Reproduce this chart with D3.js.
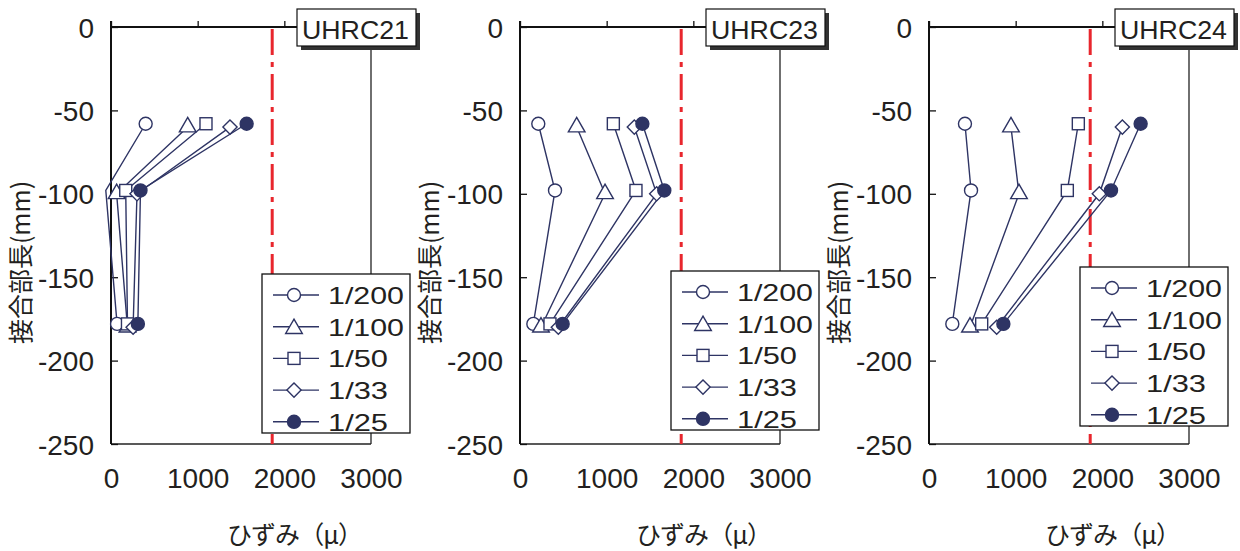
<!DOCTYPE html>
<html>
<head>
<meta charset="utf-8">
<script src="https://cdn.jsdelivr.net/npm/d3@7"></script>
<style>
  body { margin: 0; background: #fff; }
  svg { display: block; }
</style>
</head>
<body>
<div class="chart"></div>
<script>
// ---- data ----
var panelNames = ["UHRC21", "UHRC23", "UHRC24"];
var seriesNames = ["1/200", "1/100", "1/50", "1/33", "1/25"];
var depthsA = [-58, -98, -178];   // circle, square, filled circle
var depthsB = [-60, -100, -180];  // triangle, diamond
var xTicks = [0, 1000, 2000, 3000];
var yTicks = [0, -50, -100, -150, -200, -250];
var yieldStrain = 1860;

// strain at each depth, one row per series
var uhrc21 = [[400, -60, 70], [885, 65, 190], [1096, 170, 190], [1373, 300, 255], [1565, 340, 310]];
var uhrc23 = [[211, 404, 154], [654, 981, 242], [1077, 1338, 346], [1319, 1577, 442], [1412, 1665, 492]];
var uhrc24 = [[415, 485, 269], [946, 1038, 473], [1723, 1596, 608], [2231, 1965, 781], [2442, 2100, 858]];
var panelData = [uhrc21, uhrc23, uhrc24];

// ---- layout ----
var width = 1240, height = 551;
var lefts = [111, 520, 929];
var plotW = 260, plotTop = 27, plotBottom = 444;
var legendTop = [274, 271, 267];
var navy = "#2e3464";
var font = "'Liberation Sans', Arial, Helvetica, sans-serif";
var cjk = "'Noto Sans CJK JP', 'Noto Sans CJK SC', sans-serif";

var svg = d3.select(".chart").append("svg")
    .attr("width", width)
    .attr("height", height);

var y = d3.scaleLinear().domain([0, -250]).range([plotTop, plotBottom]);

var shapes = ["circle", "triangle", "square", "diamond", "filled"];

function marker(g, shape, cx, cy) {
    if (shape === "circle" || shape === "filled") {
        g.append("circle").attr("cx", cx).attr("cy", cy).attr("r", 6.5)
            .attr("fill", shape === "filled" ? navy : "#fff")
            .attr("stroke", navy).attr("stroke-width", 1.4);
    } else if (shape === "triangle") {
        g.append("path").attr("d", d3.symbol().type(d3.symbolTriangle).size(120)())
            .attr("transform", "translate(" + cx + "," + cy + ")")
            .attr("fill", "#fff").attr("stroke", navy).attr("stroke-width", 1.4);
    } else if (shape === "square") {
        g.append("rect").attr("x", cx - 6).attr("y", cy - 6).attr("width", 12).attr("height", 12)
            .attr("fill", "#fff").attr("stroke", navy).attr("stroke-width", 1.4);
    } else {
        g.append("rect").attr("x", -5).attr("y", -5).attr("width", 10).attr("height", 10)
            .attr("transform", "translate(" + cx + "," + cy + ") rotate(45)")
            .attr("fill", "#fff").attr("stroke", navy).attr("stroke-width", 1.4);
    }
}

panelNames.forEach(function(name, p) {
    var left = lefts[p];
    var x = d3.scaleLinear().domain([0, 3000]).range([left, left + plotW]);
    var g = svg.append("g");

    // frame
    g.append("line").attr("x1", left).attr("x2", left + plotW).attr("y1", plotBottom).attr("y2", plotBottom)
        .attr("stroke", "#222").attr("stroke-width", 1.5);
    g.append("line").attr("x1", left + plotW).attr("x2", left + plotW).attr("y1", plotTop).attr("y2", plotBottom)
        .attr("stroke", "#222").attr("stroke-width", 1.3);
    g.append("line").attr("x1", left).attr("x2", left + plotW).attr("y1", plotTop).attr("y2", plotTop)
        .attr("stroke", "#111").attr("stroke-width", 2);
    g.append("line").attr("x1", left).attr("x2", left).attr("y1", plotTop - 6).attr("y2", plotBottom)
        .attr("stroke", "#111").attr("stroke-width", 2);

    // top ticks (outward)
    var topAxis = g.append("g").attr("transform", "translate(0," + plotTop + ")")
        .call(d3.axisTop(x).tickValues(xTicks).tickSize(6).tickFormat(""));
    topAxis.select(".domain").remove();
    topAxis.selectAll("line").attr("stroke", "#111").attr("stroke-width", 1.3);

    // bottom labels
    var botAxis = g.append("g").attr("transform", "translate(0," + plotBottom + ")")
        .call(d3.axisBottom(x).tickValues(xTicks).tickSize(0).tickPadding(24).tickFormat(function(d) { return String(d); }));
    botAxis.select(".domain").remove();
    botAxis.selectAll("text").attr("font-family", font).attr("font-size", 28).attr("fill", "#231f20");

    // left axis (ticks inward)
    var leftAxis = g.append("g").attr("transform", "translate(" + left + ",0)")
        .call(d3.axisLeft(y).tickValues(yTicks).tickSizeInner(-7).tickSizeOuter(0).tickPadding(17)
            .tickFormat(function(d) { return String(d); }));
    leftAxis.select(".domain").remove();
    leftAxis.selectAll("line").attr("stroke", "#111").attr("stroke-width", 1.3);
    leftAxis.selectAll("text").attr("font-family", font).attr("font-size", 28).attr("fill", "#231f20")
        .attr("dy", "0.36em");

    // axis titles
    g.append("text")
        .attr("transform", "translate(" + (left - 81) + "," + ((plotTop + plotBottom) / 2 + 27) + ") rotate(-90)")
        .attr("text-anchor", "middle")
        .attr("font-family", cjk).attr("font-size", 25).attr("fill", "#231f20")
        .text("接合部長(mm)");
    g.append("text")
        .attr("x", left + 116).attr("y", 544)
        .attr("font-family", cjk).attr("font-size", 25).attr("fill", "#231f20")
        .attr("textLength", 136).attr("lengthAdjust", "spacing")
        .text("ひずみ（μ）");

    // yield line
    g.append("line").attr("x1", x(yieldStrain)).attr("x2", x(yieldStrain))
        .attr("y1", plotTop + 2).attr("y2", plotBottom)
        .attr("stroke", "#e8262d").attr("stroke-width", 3)
        .attr("stroke-dasharray", "26,7,5,7");

    // series
    var line = d3.line().x(function(d) { return x(d[0]); }).y(function(d) { return y(d[1]); });
    var data = panelData[p];
    data.forEach(function(vals, s) {
        var depths = (shapes[s] === "triangle" || shapes[s] === "diamond") ? depthsB : depthsA;
        var pts = vals.map(function(v, i) { return [v, depths[i]]; });
        g.append("path").datum(pts).attr("d", line)
            .attr("fill", "none").attr("stroke", navy).attr("stroke-width", 1.4);
    });
    data.forEach(function(vals, s) {
        var depths = (shapes[s] === "triangle" || shapes[s] === "diamond") ? depthsB : depthsA;
        vals.forEach(function(v, i) {
            if (v < 0) return; // outside plot area, marker not drawn
            marker(g, shapes[s], x(v), y(depths[i]));
        });
    });

    // title box with shadow
    var bx = left + plotW - 74, by = 9, bw = 119, bh = 37;
    g.append("rect").attr("x", bx + 4).attr("y", by + 4).attr("width", bw).attr("height", bh)
        .attr("fill", "#333");
    g.append("rect").attr("x", bx).attr("y", by).attr("width", bw).attr("height", bh)
        .attr("fill", "#fff").attr("stroke", "#111").attr("stroke-width", 1.2);
    g.append("text").attr("x", bx + 5).attr("y", by + 30)
        .attr("font-family", font).attr("font-size", 25).attr("fill", "#231f20")
        .attr("textLength", 107).attr("lengthAdjust", "spacingAndGlyphs")
        .text(name);

    // legend
    var lx = left + 151, ly = legendTop[p];
    g.append("rect").attr("x", lx).attr("y", ly).attr("width", 148).attr("height", 159)
        .attr("fill", "#fff").attr("stroke", "#111").attr("stroke-width", 1.3);
    seriesNames.forEach(function(sn, s) {
        var ry = ly + 21 + s * 31.7;
        g.append("line").attr("x1", lx + 11).attr("x2", lx + 57).attr("y1", ry).attr("y2", ry)
            .attr("stroke", navy).attr("stroke-width", 1.4);
        marker(g, shapes[s], lx + 32, ry + (shapes[s] === "triangle" ? 2 : 0));
        g.append("text").attr("x", lx + 66).attr("y", ry + 9)
            .attr("font-family", font).attr("font-size", 24).attr("fill", "#231f20")
            .attr("textLength", sn.length === 5 ? 76 : 60).attr("lengthAdjust", "spacingAndGlyphs")
            .text(sn);
    });
});
</script>
</body>
</html>
